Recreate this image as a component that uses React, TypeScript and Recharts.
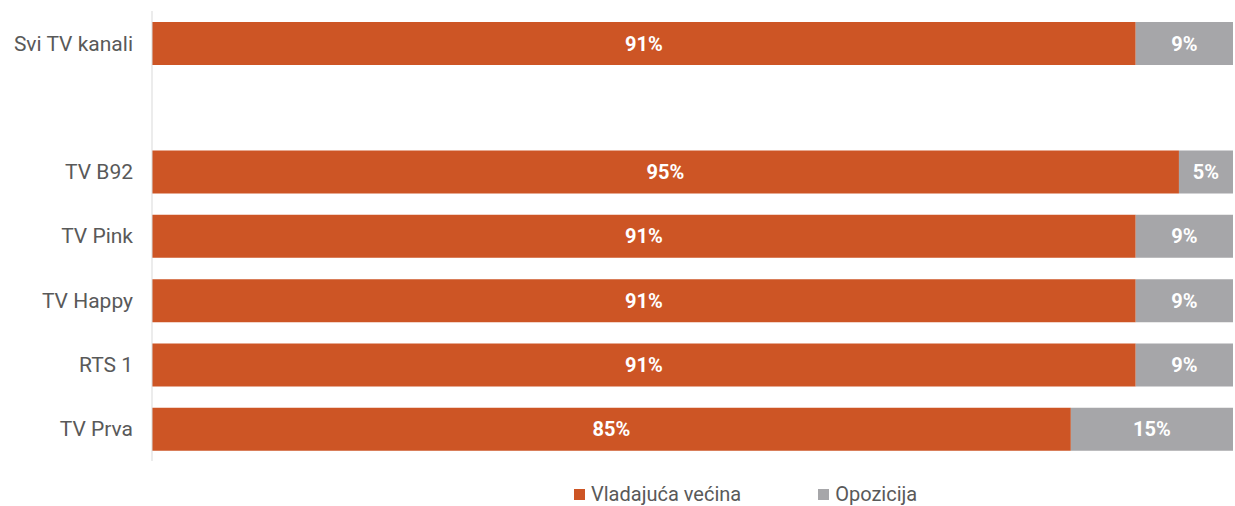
import { BarChart, Bar, XAxis, YAxis, LabelList, Legend } from "recharts";

const channels = ["Svi TV kanali", "", "TV B92", "TV Pink", "TV Happy", "RTS 1", "TV Prva"];
const majority = [91, null, 95, 91, 91, 91, 85];
const opposition = [9, null, 5, 9, 9, 9, 15];

const ORANGE = "#CD5525";
const GRAY = "#A6A6A9";
const TEXT = "#595959";
const FONT = "Roboto, sans-serif";

const data = channels.map((name, i) => ({
  name,
  majority: majority[i],
  opposition: opposition[i],
}));

const seriesNames: Record<string, string> = {
  majority: "Vladajuća većina",
  opposition: "Opozicija",
};

function ChartLegend() {
  const items = [
    { label: seriesNames.majority, color: ORANGE },
    { label: seriesNames.opposition, color: GRAY },
  ];
  return (
    <div style={{ display: "flex", justifyContent: "flex-start", gap: 77, paddingLeft: 574, paddingTop: 21 }}>
      {items.map((it) => (
        <div key={it.label} style={{ display: "flex", alignItems: "center" }}>
          <span style={{ width: 11, height: 11, background: it.color, marginRight: 6, display: "inline-block" }} />
          <span style={{ fontFamily: FONT, fontSize: 20, color: TEXT }}>{it.label}</span>
        </div>
      ))}
    </div>
  );
}

const pct = (v: any) => (v == null ? "" : `${v}%`);

export default function App() {
  if (typeof document !== "undefined") document.body.style.margin = "0";
  return (
    <div style={{ width: 1235, height: 506, background: "#fff" }}>
      <BarChart
        width={1235}
        height={506}
        data={data}
        layout="vertical"
        margin={{ top: 11, right: 2, bottom: 0, left: 0 }}
        barSize={43}
      >
        <XAxis type="number" domain={[0, 100]} hide />
        <YAxis
          type="category"
          dataKey="name"
          width={152}
          axisLine={{ stroke: "#D9D9D9" }}
          tickLine={false}
          tickSize={0}
          tickMargin={19}
          tick={{ fontSize: 21, fill: TEXT, fontFamily: FONT }}
        />
        <Legend verticalAlign="bottom" height={45} content={() => <ChartLegend />} />
        <Bar dataKey="majority" stackId="a" fill={ORANGE} isAnimationActive={false}>
          <LabelList dataKey="majority" position="center" formatter={pct} fill="#fff" fontSize={20} fontWeight={700} fontFamily={FONT} />
        </Bar>
        <Bar dataKey="opposition" stackId="a" fill={GRAY} isAnimationActive={false}>
          <LabelList dataKey="opposition" position="center" formatter={pct} fill="#fff" fontSize={20} fontWeight={700} fontFamily={FONT} />
        </Bar>
      </BarChart>
    </div>
  );
}
